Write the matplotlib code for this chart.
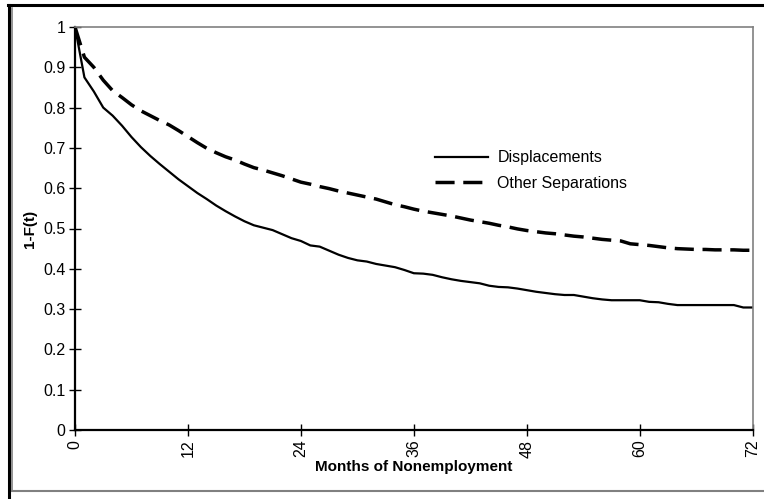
import matplotlib
matplotlib.use("Agg")
import matplotlib.pyplot as plt
from matplotlib.lines import Line2D

plt.rcParams['font.family'] = ['Liberation Sans', 'DejaVu Sans']

months = list(range(0, 73))
displacements = [1.0, 0.875, 0.84, 0.80, 0.78, 0.755, 0.727, 0.702, 0.68, 0.66,
                 0.641, 0.622, 0.605, 0.588, 0.573, 0.557, 0.543, 0.530, 0.518, 0.508,
                 0.502, 0.496, 0.486, 0.476, 0.469, 0.458, 0.455, 0.445, 0.435, 0.427,
                 0.421, 0.418, 0.412, 0.408, 0.404, 0.397, 0.389, 0.388, 0.385, 0.379,
                 0.374, 0.370, 0.367, 0.364, 0.358, 0.355, 0.354, 0.351, 0.347, 0.343,
                 0.340, 0.337, 0.335, 0.335, 0.331, 0.327, 0.324, 0.322, 0.322, 0.322,
                 0.322, 0.318, 0.317, 0.313, 0.310, 0.310, 0.310, 0.310, 0.310, 0.310,
                 0.310, 0.304, 0.304]
other_separations = [1.0, 0.925, 0.90, 0.868, 0.842, 0.825, 0.807, 0.792, 0.78, 0.768,
                     0.757, 0.743, 0.728, 0.713, 0.699, 0.688, 0.678, 0.670, 0.660, 0.651,
                     0.645, 0.638, 0.631, 0.623, 0.615, 0.610, 0.604, 0.599, 0.593, 0.588,
                     0.583, 0.578, 0.573, 0.566, 0.559, 0.554, 0.548, 0.543, 0.539, 0.535,
                     0.531, 0.526, 0.521, 0.517, 0.513, 0.508, 0.504, 0.499, 0.495, 0.492,
                     0.489, 0.487, 0.484, 0.481, 0.479, 0.476, 0.473, 0.471, 0.469, 0.462,
                     0.460, 0.458, 0.455, 0.452, 0.450, 0.449, 0.448, 0.448, 0.447, 0.447,
                     0.447, 0.446, 0.446]
x_ticks = [0, 12, 24, 36, 48, 60, 72]
y_ticks = [0, 0.1, 0.2, 0.3, 0.4, 0.5, 0.6, 0.7, 0.8, 0.9, 1]
y_tick_labels = ['0', '0.1', '0.2', '0.3', '0.4', '0.5', '0.6', '0.7', '0.8', '0.9', '1']
labels = ['Displacements', 'Other Separations']

W, H = 764, 499
fig = plt.figure(figsize=(W / 100, H / 100), dpi=100)

# outer chart frame
fig.add_artist(Line2D([8 / W, 1.0], [1 - 5 / H, 1 - 5 / H], color='black', lw=2.2))
fig.add_artist(Line2D([8.5 / W, 8.5 / W], [0, 1 - 5 / H], color='black', lw=2.2))
fig.add_artist(Line2D([11.5 / W, 11.5 / W], [1 - 491 / H, 1 - 8 / H], color='#808080', lw=1.2))
fig.add_artist(Line2D([11.5 / W, 1.0], [1 - 491 / H, 1 - 491 / H], color='#808080', lw=1.5))

ax = fig.add_axes([75 / W, 1 - 430 / H, (752.7 - 75) / W, (430 - 27) / H])
ax.plot(months, displacements, color='black', lw=1.6, label=labels[0], solid_joinstyle='round')
ax.plot(months, other_separations, color='black', lw=2.5, dashes=(5.5, 2.5), label=labels[1])

ax.set_xlim(0, 72)
ax.set_ylim(0, 1)
ax.set_xticks(x_ticks)
ax.set_xticklabels([str(t) for t in x_ticks], rotation=90, fontsize=11.5)
ax.set_yticks(y_ticks)
ax.set_yticklabels(y_tick_labels, fontsize=11.5)
ax.tick_params(axis='both', direction='inout', length=8, width=1, color='black', pad=3)

for s in ['left', 'bottom']:
    ax.spines[s].set_color('black')
    ax.spines[s].set_linewidth(1.6)
for s in ['top', 'right']:
    ax.spines[s].set_color('#808080')
    ax.spines[s].set_linewidth(1.2)

ax.set_xlabel('Months of Nonemployment', fontsize=11, fontweight='bold', labelpad=2)
ax.set_ylabel('1-F(t)', fontsize=11, fontweight='bold')
ax.yaxis.set_label_coords(-0.056, 0.5)

leg = ax.legend(loc='upper left', bbox_to_anchor=(0.51, 0.73), frameon=False,
                fontsize=11.5, handlelength=3.3, handletextpad=0.6, labelspacing=0.65)

fig.savefig('out.png', dpi=100)
